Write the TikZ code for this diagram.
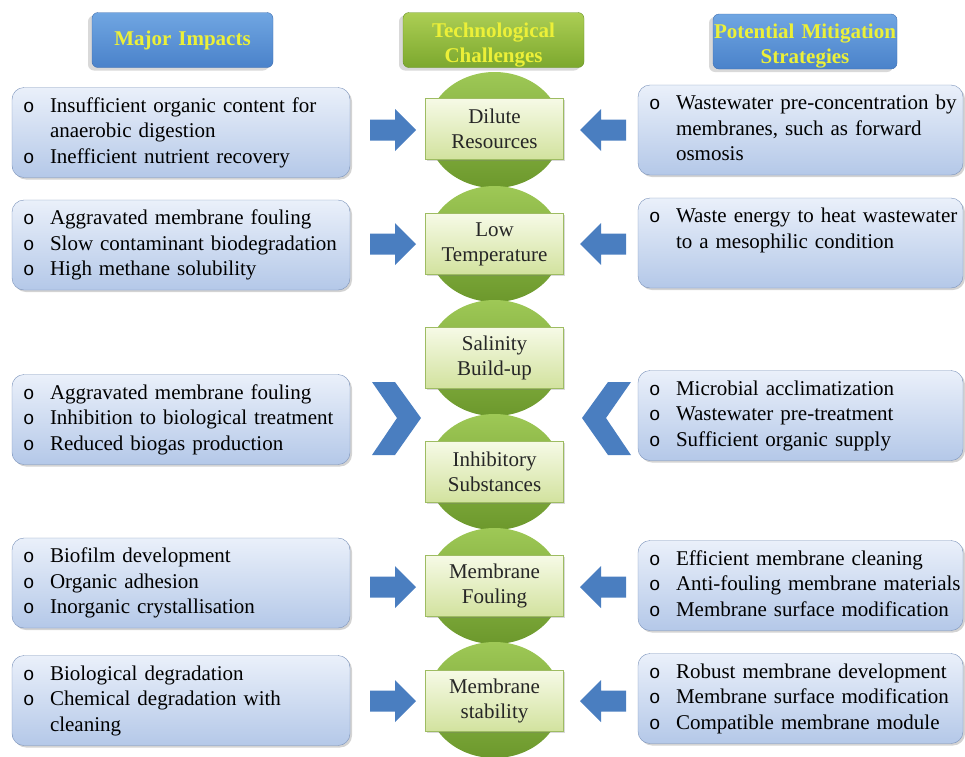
\documentclass[tikz,border=0pt]{standalone}
\usepackage{fontspec}
\setmainfont{Liberation Serif}
\newfontfamily\bulletfont{Liberation Mono}
\usetikzlibrary{shadows,shapes.geometric}

\definecolor{boxtop}{RGB}{234,240,250}
\definecolor{boxbot}{RGB}{180,200,232}
\definecolor{boxedge}{RGB}{122,146,186}
\definecolor{bluetop}{RGB}{112,166,226}
\definecolor{bluebot}{RGB}{74,130,202}
\definecolor{blueedge}{RGB}{66,112,176}
\definecolor{greentop}{RGB}{172,206,84}
\definecolor{greenbot}{RGB}{124,168,46}
\definecolor{greenedge}{RGB}{104,146,40}
\definecolor{headtext}{RGB}{236,240,56}
\definecolor{disctop}{RGB}{158,200,86}
\definecolor{discbot}{RGB}{108,152,44}
\definecolor{labeltop}{RGB}{246,250,230}
\definecolor{labelbot}{RGB}{210,226,158}
\definecolor{labeledge}{RGB}{158,188,98}
\definecolor{arrowblue}{RGB}{74,126,192}

\newcommand{\bul}{\makebox[27pt][l]{\bulletfont\fontsize{19pt}{19pt}\selectfont o}}
\newenvironment{points}{\begin{tabular}{@{}l@{}l@{}}}{\end{tabular}}

\begin{document}
\begin{tikzpicture}[x=1pt,y=-1pt,
  impact/.style={draw=boxedge, rounded corners=12pt, top color=boxtop, bottom color=boxbot,
    inner xsep=11pt, inner ysep=0pt, text width=316pt, minimum height=90pt,
    font=\fontsize{21pt}{25.5pt}\selectfont,
    drop shadow={shadow xshift=2pt, shadow yshift=-2pt, opacity=.35}},
  strategy/.style={impact, text width=303pt},
  header/.style={rounded corners=6pt, minimum width=181pt, minimum height=55pt, inner sep=0pt,
    text width=181pt, text=headtext, align=center, font=\fontsize{21pt}{25pt}\selectfont\bfseries,
    drop shadow={shadow xshift=-4pt, shadow yshift=-3pt, opacity=.3}},
  twoline/.style={text height=15pt, text depth=21pt},
  disc/.style={ellipse, minimum width=134pt, minimum height=116pt, inner sep=0pt,
    top color=disctop, bottom color=discbot},
  challenge/.style={draw=labeledge, top color=labeltop, bottom color=labelbot,
    minimum width=138pt, minimum height=61pt, inner sep=0pt, align=center,
    font=\fontsize{21pt}{25pt}\selectfont, text=black!85,
    drop shadow={shadow xshift=1.5pt, shadow yshift=-1.5pt, opacity=.3}},
  rarrow/.pic={\fill[arrowblue] (-23,-10.5) -- (2,-10.5) -- (2,-21) -- (23,0)
    -- (2,21) -- (2,10.5) -- (-23,10.5) -- cycle;},
  chevron/.pic={\fill[arrowblue] (-24,-36) -- (-1,-36) -- (25,0) -- (-1,37)
    -- (-24,37) -- (1,0) -- cycle;}
]
\useasboundingbox (0,0) rectangle (965,756);

% Headers
\node[header, text depth=3pt, draw=blueedge, top color=bluetop, bottom color=bluebot] (hImpact) at (182.5,40) {Major Impacts};
\node[header, twoline, draw=greenedge, top color=greentop, bottom color=greenbot] (hChallenge) at (493.5,40) {Technological\\Challenges};
\node[header, twoline, draw=blueedge, top color=bluetop, bottom color=bluebot, minimum width=184pt, text width=184pt] (hStrategy) at (805,41.5) {Potential Mitigation\\Strategies};

% Challenge discs
\foreach \i/\y in {1/130,2/244,3/358,4/472,5/586,6/700}
  \node[disc] (disc\i) at (494.5,\y) {};

% Challenge labels
\node[challenge] (dilute) at (494.5,129) {Dilute\\Resources};
\node[challenge] (lowtemp) at (494.5,244) {Low\\Temperature};
\node[challenge] (salinity) at (494.5,358) {Salinity\\Build-up};
\node[challenge] (inhibit) at (494.5,472) {Inhibitory\\Substances};
\node[challenge] (fouling) at (494.5,586) {Membrane\\Fouling};
\node[challenge] (stability) at (494.5,701) {Membrane\\stability};

% Major impacts
\node[impact] (imp1) at (181,132.5) {\begin{points}
  \bul & Insufficient organic content for\\
       & anaerobic digestion\\
  \bul & Inefficient nutrient recovery
\end{points}};
\node[impact] (imp2) at (181,245) {\begin{points}
  \bul & Aggravated membrane fouling\\
  \bul & Slow contaminant biodegradation\\
  \bul & High methane solubility
\end{points}};
\node[impact] (imp3) at (181,419.5) {\begin{points}
  \bul & Aggravated membrane fouling\\
  \bul & Inhibition to biological treatment\\
  \bul & Reduced biogas production
\end{points}};
\node[impact] (imp4) at (181,583) {\begin{points}
  \bul & Biofilm development\\
  \bul & Organic adhesion\\
  \bul & Inorganic crystallisation
\end{points}};
\node[impact] (imp5) at (181,700.5) {\begin{points}
  \bul & Biological degradation\\
  \bul & Chemical degradation with\\
       & cleaning
\end{points}};

% Mitigation strategies
\node[strategy] (str1) at (800.5,130) {\begin{points}
  \bul & Wastewater pre-concentration by\\
       & membranes, such as forward\\
       & osmosis
\end{points}};
\node[strategy] (str2) at (800.5,243) {\begin{points}
  \bul & Waste energy to heat wastewater\\
       & to a mesophilic condition\\
       &
\end{points}};
\node[strategy] (str3) at (800.5,415.5) {\begin{points}
  \bul & Microbial acclimatization\\
  \bul & Wastewater pre-treatment\\
  \bul & Sufficient organic supply
\end{points}};
\node[strategy] (str4) at (800.5,585.5) {\begin{points}
  \bul & Efficient membrane cleaning\\
  \bul & Anti-fouling membrane materials\\
  \bul & Membrane surface modification
\end{points}};
\node[strategy] (str5) at (800.5,698.5) {\begin{points}
  \bul & Robust membrane development\\
  \bul & Membrane surface modification\\
  \bul & Compatible membrane module
\end{points}};

% Block arrows
\foreach \y in {130,244,587,701} {
  \pic at (393,\y) {rarrow};
  \pic[xscale=-1] at (603,\y) {rarrow};
}
\pic at (396,418) {chevron};
\pic[xscale=-1] at (607,418) {chevron};

\end{tikzpicture}
\end{document}
